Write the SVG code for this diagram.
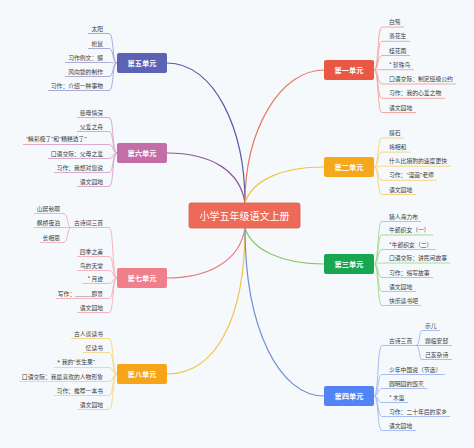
<svg xmlns="http://www.w3.org/2000/svg" width="474" height="448" viewBox="0 0 474 448">
<style>
text{font-family:"Noto Sans CJK SC","Noto Sans",sans-serif;dominant-baseline:central}
.q{font-family:"Noto Sans","Noto Sans CJK SC",sans-serif}
.t{font-size:5.8px;fill:#3a3a3a}
.e{text-anchor:end}
.u{font-size:7.2px;font-weight:bold;fill:#fff;text-anchor:middle}
.c{font-size:10px;fill:#fff;text-anchor:middle}
path{fill:none;stroke-width:1}
.m{stroke-width:1.2}
.b1{stroke:#f2aaa0}.b2{stroke:#f8d584}.b3{stroke:#a7db93}.b4{stroke:#a9bdf0}
.b5{stroke:#a9acd9}.b6{stroke:#dcaacd}.b7{stroke:#f5b5bd}.b8{stroke:#f6d88e}
</style>
<rect width="474" height="448" fill="#f6f9fc"/>
<g id="connectors">
<path class="m" stroke="#565aa6" d="M245,203 C245,130 215,63 167,63"/>
<path class="m" stroke="#8b5a94" d="M245,203 C240,170 210,153 167,153"/>
<path class="m" stroke="#e8776a" d="M245,203 C245,130 280,70 324,70"/>
<path class="m" stroke="#f0c43c" d="M245,203 C252,180 282,167 324,167"/>
<path class="m" stroke="#e8787f" d="M245,228 C240,260 210,278 167,278"/>
<path class="m" stroke="#8cc66b" d="M245,228 C252,250 282,264 324,264"/>
<path class="m" stroke="#f3c34a" d="M245,228 C245,320 215,374 167,374"/>
<path class="m" stroke="#6b8ed6" d="M245,228 C245,330 280,396 324,396"/>
<g class="b5">
<path d="M117,63 C112,63 114,33.5 109,33.5 H88"/>
<path d="M117,63 C112,63 114,48.5 109,48.5 H88"/>
<path d="M117,63 C112,63 114,62.5 109,62.5 H65"/>
<path d="M117,63 C112,63 114,76.5 109,76.5 H65"/>
<path d="M117,63 C112,63 114,90.5 109,90.5 H48"/>
</g>
<g class="b6">
<path d="M117,153 C112,153 114,117.5 109,117.5 H77"/>
<path d="M117,153 C112,153 114,131.5 109,131.5 H77"/>
<path d="M117,153 C112,153 114,144.5 109,144.5 H23"/>
<path d="M117,153 C112,153 114,158.5 109,158.5 H48"/>
<path d="M117,153 C112,153 114,172.5 109,172.5 H54"/>
<path d="M117,153 C112,153 114,186.5 109,186.5 H77"/>
</g>
<g class="b7">
<path d="M117,278 C112,278 114,227.5 109,227.5 H71"/>
<path d="M71,227.5 C67,227.5 68,213.5 64,213.5 H34"/>
<path d="M71,227.5 H34"/>
<path d="M71,227.5 C67,227.5 68,242.5 64,242.5 H40"/>
<path d="M117,278 C112,278 114,256.5 109,256.5 H77"/>
<path d="M117,278 C112,278 114,270.5 109,270.5 H77"/>
<path d="M117,278 C112,278 114,283.5 109,283.5 H82"/>
<path d="M117,278 C112,278 114,298.5 109,298.5 H56"/>
<path d="M117,278 C112,278 114,312.5 109,312.5 H77"/>
</g>
<g class="b8">
<path d="M117,374 C112,374 114,338.5 109,338.5 H71"/>
<path d="M117,374 C112,374 114,352.5 109,352.5 H83"/>
<path d="M117,374 C112,374 114,367.5 109,367.5 H54"/>
<path d="M117,374 C112,374 114,381.5 109,381.5 H19"/>
<path d="M117,374 C112,374 114,395.5 109,395.5 H54"/>
<path d="M117,374 C112,374 114,409.5 109,409.5 H77"/>
</g>
<g class="b1">
<path d="M374,70 C379,70 377,27 382,27 H404"/>
<path d="M374,70 C379,70 377,41.3 382,41.3 H410"/>
<path d="M374,70 C379,70 377,55.5 382,55.5 H410"/>
<path d="M374,70 C379,70 377,69.7 382,69.7 H414"/>
<path d="M374,70 C379,70 377,84 382,84 H456"/>
<path d="M374,70 C379,70 377,98.3 382,98.3 H445"/>
<path d="M374,70 C379,70 377,112.5 382,112.5 H416"/>
</g>
<g class="b2">
<path d="M374,167 C379,167 377,138 382,138 H404"/>
<path d="M374,167 C379,167 377,152.1 382,152.1 H410"/>
<path d="M374,167 C379,167 377,166.2 382,166.2 H451"/>
<path d="M374,167 C379,167 377,180.3 382,180.3 H437"/>
<path d="M374,167 C379,167 377,194.5 382,194.5 H416"/>
</g>
<g class="b3">
<path d="M374,264 C379,264 377,221.5 382,221.5 H421"/>
<path d="M374,264 C379,264 377,235 382,235 H433"/>
<path d="M374,264 C379,264 377,249.5 382,249.5 H436"/>
<path d="M374,264 C379,264 377,263 382,263 H450"/>
<path d="M374,264 C379,264 377,277.5 382,277.5 H433"/>
<path d="M374,264 C379,264 377,291.5 382,291.5 H416"/>
<path d="M374,264 C379,264 377,305.5 382,305.5 H421"/>
</g>
<g class="b4">
<path d="M374,396 C379,396 377,345.5 382,345.5 H416"/>
<path d="M416,345.5 C420,345.5 419,330.5 422,330.5 H440"/>
<path d="M416,345.5 H452"/>
<path d="M416,345.5 C420,345.5 419,359.5 422,359.5 H452"/>
<path d="M374,396 C379,396 377,374.5 382,374.5 H445"/>
<path d="M374,396 C379,396 377,388.5 382,388.5 H427"/>
<path d="M374,396 C379,396 377,402.5 382,402.5 H408"/>
<path d="M374,396 C379,396 377,416.5 382,416.5 H450"/>
<path d="M374,396 C379,396 377,430.5 382,430.5 H416"/>
</g>
</g>
<g id="root"><rect x="189" y="203" width="111" height="25" rx="2" fill="#ee6a58" stroke="#e05b49" stroke-width="0.8"/><text class="c" x="244.5" y="215.5">小学五年级语文上册</text></g>
<g id="unit1"><rect x="324" y="60" width="50" height="20" rx="2" fill="#ea5844"/><text class="u" x="349" y="70">第一单元</text></g>
<g id="unit2"><rect x="324" y="157" width="50" height="20" rx="2" fill="#f6a81c"/><text class="u" x="349" y="167">第二单元</text></g>
<g id="unit3"><rect x="324" y="254" width="50" height="20" rx="2" fill="#1aa650"/><text class="u" x="349" y="264">第三单元</text></g>
<g id="unit4"><rect x="324" y="386" width="50" height="20" rx="2" fill="#5483f5"/><text class="u" x="349" y="396">第四单元</text></g>
<g id="unit5"><rect x="117" y="53" width="50" height="20" rx="2" fill="#5d63b4"/><text class="u" x="142" y="63">第五单元</text></g>
<g id="unit6"><rect x="117" y="143" width="50" height="20" rx="2" fill="#c36ea7"/><text class="u" x="142" y="153">第六单元</text></g>
<g id="unit7"><rect x="117" y="268" width="50" height="20" rx="2" fill="#f07f8c"/><text class="u" x="142" y="278">第七单元</text></g>
<g id="unit8"><rect x="117" y="364" width="50" height="20" rx="2" fill="#f6a51a"/><text class="u" x="142" y="374">第八单元</text></g>
<g id="items5">
<g id="n5-1"><text class="t e" x="103" y="28">太阳</text></g>
<g id="n5-2"><text class="t e" x="103" y="43">松鼠</text></g>
<g id="n5-3"><text class="t e" x="103" y="57">习作例文：鲸</text></g>
<g id="n5-4"><text class="t e" x="103" y="71">风向袋的制作</text></g>
<g id="n5-5"><text class="t e" x="103" y="85">习作：介绍一种事物</text></g>
</g>
<g id="items6">
<g id="n6-1"><text class="t e" x="103" y="112">慈母情深</text></g>
<g id="n6-2"><text class="t e" x="103" y="126">父爱之舟</text></g>
<g id="n6-3"><text class="t q" x="26" y="139">“精彩极了”和“糟糕透了”</text></g>
<g id="n6-4"><text class="t e" x="103" y="153">口语交际：父母之爱</text></g>
<g id="n6-5"><text class="t e" x="103" y="167">习作：我想对您说</text></g>
<g id="n6-6"><text class="t e" x="103" y="181">语文园地</text></g>
</g>
<g id="items7">
<g id="n7-1"><text class="t e" x="103" y="222">古诗词三首</text></g>
<g id="n7-1a"><text class="t e" x="60" y="208">山居秋暝</text></g>
<g id="n7-1b"><text class="t e" x="60" y="222">枫桥夜泊</text></g>
<g id="n7-1c"><text class="t e" x="60" y="237">长相思</text></g>
<g id="n7-2"><text class="t e" x="103" y="251">四季之美</text></g>
<g id="n7-3"><text class="t e" x="103" y="265">鸟的天堂</text></g>
<g id="n7-4"><text class="t e" x="103" y="278">* 月迹</text></g>
<g id="n7-5"><text class="t e" x="103" y="293">写作：_____即景</text></g>
<g id="n7-6"><text class="t e" x="103" y="307">语文园地</text></g>
</g>
<g id="items8">
<g id="n8-1"><text class="t e" x="103" y="333">古人谈读书</text></g>
<g id="n8-2"><text class="t e" x="103" y="347">忆读书</text></g>
<g id="n8-3"><text class="t q" x="57" y="362">* 我的“长生果”</text></g>
<g id="n8-4"><text class="t e" x="103" y="376">口语交际：我最喜欢的人物形象</text></g>
<g id="n8-5"><text class="t e" x="103" y="390">习作：推荐一本书</text></g>
<g id="n8-6"><text class="t e" x="103" y="404">语文园地</text></g>
</g>
<g id="items1">
<g id="n1-1"><text class="t" x="389" y="21.5">白鹭</text></g>
<g id="n1-2"><text class="t" x="389" y="35.8">落花生</text></g>
<g id="n1-3"><text class="t" x="389" y="50">桂花雨</text></g>
<g id="n1-4"><text class="t" x="389" y="64.2">* 珍珠鸟</text></g>
<g id="n1-5"><text class="t" x="389" y="78.5">口语交际：制定班级公约</text></g>
<g id="n1-6"><text class="t" x="389" y="92.8">习作：我的心爱之物</text></g>
<g id="n1-7"><text class="t" x="389" y="107">语文园地</text></g>
</g>
<g id="items2">
<g id="n2-1"><text class="t" x="389" y="132.5">搭石</text></g>
<g id="n2-2"><text class="t" x="389" y="146.6">将相和</text></g>
<g id="n2-3"><text class="t" x="389" y="160.7">什么比猎豹的速度更快</text></g>
<g id="n2-4"><text class="t q" x="389" y="174.8">习作：“漫画”老师</text></g>
<g id="n2-5"><text class="t" x="389" y="189">语文园地</text></g>
</g>
<g id="items3">
<g id="n3-1"><text class="t" x="389" y="216">猎人海力布</text></g>
<g id="n3-2"><text class="t" x="389" y="229.5">牛郎织女（一）</text></g>
<g id="n3-3"><text class="t" x="389" y="244">*牛郎织女（二）</text></g>
<g id="n3-4"><text class="t" x="389" y="257.5">口语交际：讲民间故事</text></g>
<g id="n3-5"><text class="t" x="389" y="272">习作：缩写故事</text></g>
<g id="n3-6"><text class="t" x="389" y="286">语文园地</text></g>
<g id="n3-7"><text class="t" x="389" y="300">快乐读书吧</text></g>
</g>
<g id="items4">
<g id="n4-1"><text class="t" x="389" y="340">古诗三首</text></g>
<g id="n4-1a"><text class="t" x="425" y="325">示儿</text></g>
<g id="n4-1b"><text class="t" x="425" y="340">题临安邸</text></g>
<g id="n4-1c"><text class="t" x="425" y="354">己亥杂诗</text></g>
<g id="n4-2"><text class="t" x="389" y="369">少年中国说（节选）</text></g>
<g id="n4-3"><text class="t" x="389" y="383">圆明园的毁灭</text></g>
<g id="n4-4"><text class="t" x="389" y="397">* 木笛</text></g>
<g id="n4-5"><text class="t" x="389" y="411">习作：二十年后的家乡</text></g>
<g id="n4-6"><text class="t" x="389" y="425">语文园地</text></g>
</g>
</svg>
